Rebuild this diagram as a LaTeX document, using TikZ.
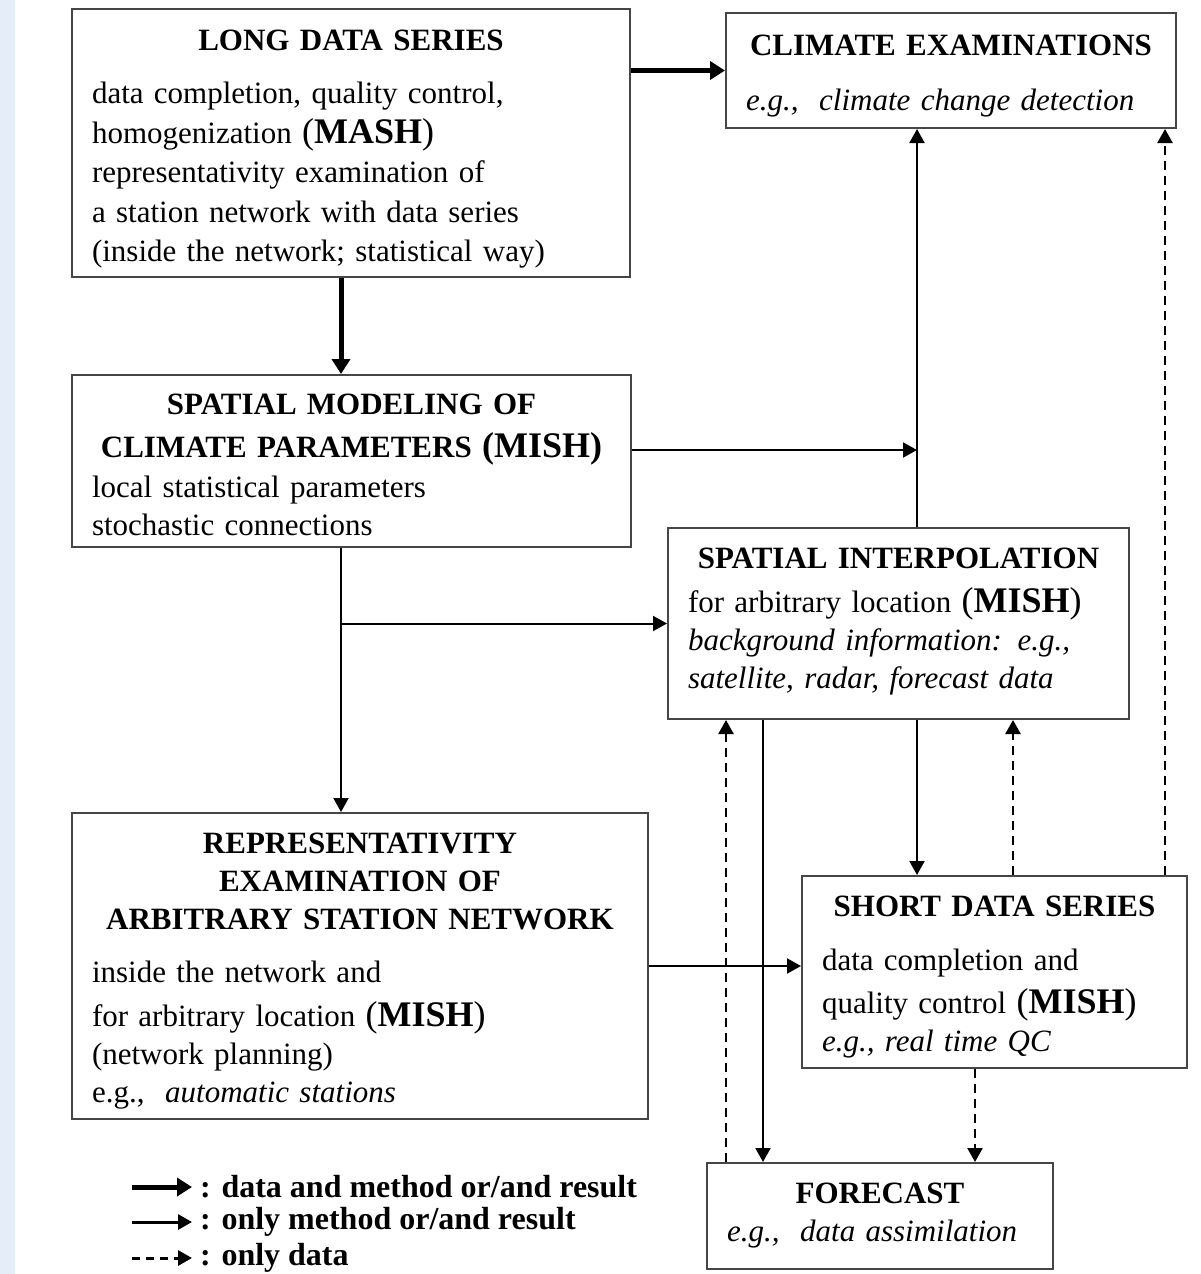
\documentclass[tikz,border=0pt]{standalone}
\usepackage{fontspec}
\setmainfont{Liberation Serif}
\usetikzlibrary{arrows.meta}
\definecolor{slideblue}{RGB}{229,238,248}
\definecolor{boxgray}{RGB}{70,70,70}
\newcommand{\acro}[1]{{\fontsize{36}{38}\selectfont(\textbf{#1})}}
% optional argument: strut height that pushes the box text down
\newcommand{\boxtitle}[2][0pt]{{\centering\bfseries\rule{0pt}{#1}#2\par}}

\begin{document}
\begin{tikzpicture}[
    x=1pt, y=-1pt,
    font=\fontsize{31}{38}\selectfont,
    block/.style={rectangle, draw=boxgray, line width=2pt, anchor=north west, align=left, inner xsep=20pt, inner ysep=0pt},
    bigarrow/.style={line width=5pt, -{Triangle[length=15pt,width=18pt]}},
    arrow/.style={line width=2pt, -{Triangle[length=14pt,width=15pt]}},
    dataarrow/.style={line width=2.5pt, dash pattern=on 9pt off 6pt, -{Triangle[length=14pt,width=15pt]}},
    legendtext/.style={anchor=west, inner sep=0pt, font=\fontsize{32}{34}\selectfont\bfseries}
]
\useasboundingbox (0,0) rectangle (1201,1274);
\fill[slideblue] (0,0) rectangle (15,1274);

% Boxes
\node[block, text width=518pt, minimum height=268pt, font=\fontsize{31}{39.5}\selectfont] (long) at (71,8) {\boxtitle[33pt]{LONG DATA SERIES}\vspace{14pt}
    data completion, quality control,\\
    homogenization \acro{MASH}\\
    representativity examination of\\
    a station network with data series\\
    (inside the network; statistical way)};
\node[block, text width=410pt, minimum height=115pt] (climate) at (725,12) {\boxtitle[31pt]{CLIMATE EXAMINATIONS}\vspace{17pt}
    \textit{e.g.,\ \ climate change detection}};
\node[block, text width=519pt, minimum height=172pt] (model) at (71,374) {\boxtitle[29pt]{SPATIAL MODELING OF\\[5pt] CLIMATE PARAMETERS \acro{MISH}}\vspace{2pt}
    local statistical parameters\\
    stochastic connections};
\node[block, text width=421pt, minimum height=191pt] (interp) at (667,527) {\boxtitle{SPATIAL INTERPOLATION}\vspace{6pt}
    for arbitrary location \acro{MISH}\\
    \textit{background information: e.g.,}\\
    \textit{satellite, radar, forecast data}\rule[-11pt]{0pt}{1pt}};
\node[block, text width=536pt, minimum height=306pt] (repr) at (71,812) {\boxtitle[31pt]{REPRESENTATIVITY\\ EXAMINATION OF\\ ARBITRARY STATION NETWORK}\vspace{15pt}
    inside the network and\\[6pt]
    for arbitrary location \acro{MISH}\\
    (network planning)\\
    e.g.,\ \ \textit{automatic stations}};
\node[block, text width=345pt, minimum height=192pt] (short) at (801,875) {\boxtitle[30pt]{SHORT DATA SERIES}\vspace{16pt}
    data completion and\\[5pt]
    quality control \acro{MISH}\\
    \textit{e.g., real time QC}};
\node[block, text width=306pt, minimum height=106pt] (forecast) at (706,1162) {\boxtitle{FORECAST}
    \textit{e.g.,\ \ data assimilation}};

% Columns of the vertical connectors
\path (341,0) coordinate (xs) (726,0) coordinate (xa) (763,0) coordinate (xb) (917,0) coordinate (xc)
      (975,0) coordinate (xd) (1013,0) coordinate (xe) (1165,0) coordinate (xf);
\coordinate (join) at (917,450);

% Data and method
\draw[bigarrow] (long.east |- climate.west) -- (climate.west);
\draw[bigarrow] (xs |- long.south) -- (xs |- model.north);

% Method or result
\draw[arrow] (model.east |- join) -- (join);
\draw[arrow] (xc |- interp.north) -- (xc |- climate.south);
\draw[arrow] (xs |- model.south) -- (xs |- repr.north);
\draw[arrow] (xs |- interp.west) -- (interp.west);
\draw[arrow] (repr.east) -- (repr.east -| short.west);
\draw[arrow] (xc |- interp.south) -- (xc |- short.north);
\draw[arrow] (xb |- interp.south) -- (xb |- forecast.north);

% Only data
\draw[dataarrow] (xe |- short.north) -- (xe |- interp.south);
\draw[dataarrow] (xf |- short.north) -- (xf |- climate.south);
\draw[dataarrow] (xa |- forecast.north) -- (xa |- interp.south);
\draw[dataarrow] (xd |- short.south) -- (xd |- forecast.north);

% Legend
\node[legendtext] (lg1) at (200,1187) {: data and method or/and result};
\node[legendtext] (lg2) at (200,1222) {: only method or/and result};
\node[legendtext] (lg3) at (200,1258) {: only data};
\draw[bigarrow] ([xshift=-68pt]lg1.west) -- ([xshift=-8pt]lg1.west);
\draw[arrow, line width=3pt] ([xshift=-68pt]lg2.west) -- ([xshift=-8pt]lg2.west);
\draw[dataarrow, line width=3pt, dash pattern=on 8pt off 6pt] ([xshift=-68pt]lg3.west) -- ([xshift=-8pt]lg3.west);

\end{tikzpicture}
\end{document}
